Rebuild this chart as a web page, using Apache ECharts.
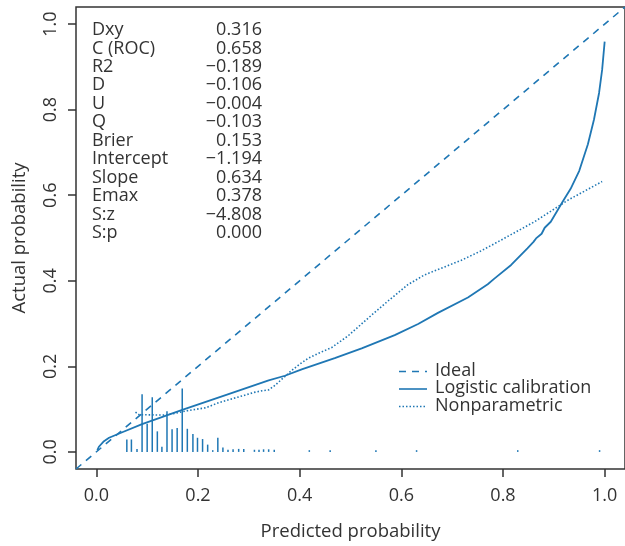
<!DOCTYPE html>
<html>
<head>
<meta charset="utf-8">
<script src="https://cdn.jsdelivr.net/npm/echarts@6/dist/echarts.min.js"></script>
<style>
  html, body { margin: 0; padding: 0; background: #fff; }
  #calChart { width: 625px; height: 546px; }
</style>
</head>
<body>
<div id="calChart"></div>
<script>
  // tick positions
  var ticks = [0, 0.2, 0.4, 0.6, 0.8, 1.0];

  // ideal line (y = x)
  var idealX = [-0.04, 1.04];

  // logistic calibration curve
  var logitX = [0.002, 0.005, 0.015, 0.025, 0.031, 0.051, 0.090, 0.169, 0.260, 0.339, 0.371, 0.404, 0.469, 0.522, 0.587, 0.633, 0.672, 0.731, 0.770, 0.783, 0.816, 0.848, 0.860, 0.865, 0.876, 0.882, 0.894, 0.917, 0.933, 0.950, 0.967, 0.979, 0.989, 0.995, 1.000];
  var logitY = [0.004, 0.012, 0.025, 0.033, 0.036, 0.046, 0.065, 0.098, 0.135, 0.167, 0.178, 0.193, 0.219, 0.242, 0.273, 0.299, 0.325, 0.361, 0.392, 0.405, 0.437, 0.476, 0.491, 0.499, 0.510, 0.524, 0.538, 0.584, 0.615, 0.657, 0.719, 0.777, 0.839, 0.893, 0.959];

  // nonparametric (loess) curve
  var npX = [0.077, 0.084, 0.136, 0.162, 0.182, 0.215, 0.241, 0.267, 0.293, 0.310, 0.326, 0.339, 0.352, 0.365, 0.384, 0.400, 0.417, 0.440, 0.463, 0.495, 0.535, 0.573, 0.613, 0.646, 0.678, 0.718, 0.757, 0.796, 0.862, 0.927, 0.995];
  var npY = [0.093, 0.087, 0.086, 0.092, 0.097, 0.103, 0.115, 0.124, 0.133, 0.139, 0.143, 0.145, 0.156, 0.170, 0.190, 0.205, 0.219, 0.232, 0.244, 0.271, 0.313, 0.352, 0.391, 0.414, 0.429, 0.448, 0.470, 0.495, 0.538, 0.588, 0.632];

  // spike histogram of predicted probabilities
  var spikeX = [0.060, 0.069, 0.080, 0.090, 0.100, 0.110, 0.120, 0.129, 0.139, 0.149, 0.159, 0.169, 0.179, 0.190, 0.199, 0.209, 0.219, 0.229, 0.239, 0.249, 0.259, 0.269, 0.280, 0.290, 0.311, 0.320, 0.329, 0.339, 0.350, 0.419, 0.460, 0.550, 0.630, 0.829, 0.990];
  var spikeH = [0.029, 0.029, 0.007, 0.135, 0.066, 0.128, 0.048, 0.012, 0.095, 0.053, 0.056, 0.148, 0.054, 0.042, 0.033, 0.030, 0.017, 0.004, 0.033, 0.010, 0.005, 0.006, 0.007, 0.007, 0.005, 0.005, 0.006, 0.006, 0.005, 0.004, 0.004, 0.004, 0.004, 0.004, 0.004];

  // statistics block
  var statNames = ['Dxy', 'C (ROC)', 'R2', 'D', 'U', 'Q', 'Brier', 'Intercept', 'Slope', 'Emax', 'S:z', 'S:p'];
  var statValues = ['0.316', '0.658', '\u22120.189', '\u22120.106', '\u22120.004', '\u22120.103', '0.153', '\u22121.194', '0.634', '0.378', '\u22124.808', '0.000'];

  // legend entries
  var legendNames = ['Ideal', 'Logistic calibration', 'Nonparametric'];

  var blue = '#1f77b4';
  var ink = '#333333';
  var font = '"Open Sans", "Noto Sans", sans-serif';

  var idealDash = [7, 6];
  var dotDash = [1.5, 2];
  var legendDash = [idealDash, 'solid', dotDash];

  function zip(a, b) {
    var out = [];
    for (var i = 0; i < a.length; i++) out.push([a[i], b[i]]);
    return out;
  }

  // stats text + legend drawn as graphic elements
  var extras = [];
  statNames.forEach(function (name, i) {
    var y = 30 + i * 18.45;
    extras.push({
      type: 'text', x: 92, y: y,
      style: { text: name, font: '18px ' + font, fill: ink, textVerticalAlign: 'middle' }
    });
    extras.push({
      type: 'text', x: 262, y: y,
      style: { text: statValues[i], font: '18px ' + font, fill: ink, textAlign: 'right', textVerticalAlign: 'middle' }
    });
  });
  var legendY = [371.5, 389, 406.5];
  legendNames.forEach(function (name, i) {
    extras.push({
      type: 'line',
      shape: { x1: 399, y1: legendY[i], x2: 427, y2: legendY[i] },
      style: { stroke: blue, lineWidth: 1.6, lineDash: legendDash[i] === 'solid' ? null : legendDash[i] }
    });
    extras.push({
      type: 'text', x: 435, y: legendY[i] - 1,
      style: { text: name, font: '18px ' + font, fill: ink, textVerticalAlign: 'middle' }
    });
  });

  var myChart = echarts.init(document.getElementById('calChart'));
  myChart.setOption({
    animation: false,
    textStyle: { fontFamily: font },
    grid: {
      left: 76, right: -3, top: 7, bottom: 74,
      show: true, borderColor: ink, borderWidth: 1.5,
      containLabel: false
    },
    xAxis: {
      type: 'value', min: -0.04, max: 1.04,
      name: 'Predicted probability', nameLocation: 'middle', nameGap: 53,
      nameTextStyle: { fontSize: 18.5, color: ink },
      splitLine: { show: false },
      axisLine: { show: false, onZero: false },
      axisTick: { show: true, length: 8, customValues: ticks, lineStyle: { color: ink, width: 1.5 } },
      axisLabel: {
        customValues: ticks, fontSize: 18, color: ink, margin: 18,
        formatter: function (v) { return v.toFixed(1); }
      }
    },
    yAxis: {
      type: 'value', min: -0.04, max: 1.04,
      name: 'Actual probability', nameLocation: 'middle', nameGap: 47,
      nameTextStyle: { fontSize: 18.5, color: ink },
      splitLine: { show: false },
      axisLine: { show: false, onZero: false },
      axisTick: { show: true, length: 8, customValues: ticks, lineStyle: { color: ink, width: 1.5 } },
      axisLabel: {
        customValues: ticks, fontSize: 18, color: ink, margin: 16, rotate: 90,
        formatter: function (v) { return v.toFixed(1); }
      }
    },
    graphic: extras,
    series: [
      {
        name: 'Ideal', type: 'line', symbol: 'none',
        data: zip(idealX, idealX),
        lineStyle: { color: blue, width: 1.6, type: idealDash }
      },
      {
        name: 'Logistic calibration', type: 'line', symbol: 'none',
        data: zip(logitX, logitY),
        lineStyle: { color: blue, width: 1.8 }
      },
      {
        name: 'Nonparametric', type: 'line', symbol: 'none',
        data: zip(npX, npY),
        lineStyle: { color: blue, width: 1.6, type: dotDash }
      },
      {
        name: 'spikes', type: 'custom',
        data: zip(spikeX, spikeH),
        renderItem: function (params, api) {
          var p0 = api.coord([api.value(0), 0]);
          var p1 = api.coord([api.value(0), api.value(1)]);
          return {
            type: 'line',
            shape: { x1: p0[0], y1: p0[1], x2: p1[0], y2: p1[1] },
            style: { stroke: blue, lineWidth: 1.5 }
          };
        }
      }
    ]
  });

  window.addEventListener('resize', function () {
    myChart.resize();
  });
</script>
</body>
</html>
